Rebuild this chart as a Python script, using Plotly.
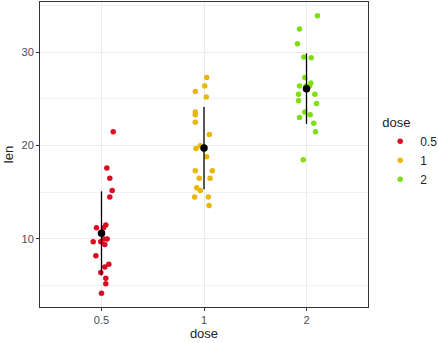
import numpy as np
import plotly.graph_objects as go

doses = ["0.5", "1", "2"]
colors = ["#DC0C20", "#E8B708", "#80DE0E"]

len_05 = [21.5, 17.6, 16.5, 15.2, 14.5, 11.5, 11.2, 11.2, 10.0, 10.0,
          9.7, 9.7, 9.4, 8.2, 7.3, 7.0, 6.4, 5.8, 5.2, 4.2]
jit_05 = [0.114, 0.052, 0.081, 0.104, 0.081, 0.042, -0.049, 0.02, 0.055, 0.02,
          -0.081, -0.007, 0.032, -0.055, 0.071, 0.032, -0.007, 0.042, 0.042, 0.0]

len_1 = [27.3, 26.4, 25.8, 25.2, 23.6, 23.3, 22.5, 21.2, 20.0, 19.7,
         18.8, 17.3, 17.3, 16.5, 16.5, 15.5, 15.2, 14.5, 14.5, 13.6]
jit_1 = [0.026, 0.007, -0.085, 0.022, -0.085, -0.085, -0.085, 0.052, -0.036, -0.078,
         0.026, -0.085, 0.081, -0.046, 0.059, -0.071, -0.036, -0.091, 0.042, 0.049]

len_2 = [33.9, 32.5, 30.9, 29.5, 29.4, 27.3, 26.7, 26.4, 26.4, 26.4,
         25.5, 25.5, 24.8, 24.5, 23.6, 23.3, 23.0, 22.4, 21.5, 18.5]
jit_2 = [0.107, -0.068, -0.088, -0.026, 0.046, -0.017, 0.042, -0.068, -0.005, 0.03,
         0.081, -0.078, -0.078, 0.098, -0.017, 0.036, -0.068, 0.071, 0.088, -0.032]

values = [len_05, len_1, len_2]
jitters = [jit_05, jit_1, jit_2]

FONT = "Liberation Sans, Arial, sans-serif"
fig = go.Figure()

for i, (d, c, v, j) in enumerate(zip(doses, colors, values, jitters)):
    xpos = [i + 1 + o for o in j]
    fig.add_trace(go.Scatter(x=xpos, y=v, mode="markers", name=d,
                             marker=dict(color=c, size=5.5, line=dict(width=0)),
                             showlegend=True))

for i, v in enumerate(values):
    m = float(np.mean(v))
    s = float(np.std(v, ddof=1))
    fig.add_trace(go.Scatter(x=[i + 1, i + 1], y=[m - s, m + s], mode="lines",
                             line=dict(color="black", width=1.3), showlegend=False,
                             hoverinfo="skip"))
    fig.add_trace(go.Scatter(x=[i + 1], y=[m], mode="markers",
                             marker=dict(color="black", size=7.5), showlegend=False))

fig.update_layout(
    width=438, height=343,
    margin=dict(l=40, r=70, t=2, b=36),
    paper_bgcolor="white", plot_bgcolor="white",
    font=dict(family=FONT, size=11, color="#4D4D4D"),
    legend=dict(title=dict(text="dose", font=dict(size=13, color="#222")),
                font=dict(size=12, color="#222"),
                xref="container", yref="container", x=0.868, y=0.68,
                xanchor="left", yanchor="top", itemwidth=30,
                tracegroupgap=0, bgcolor="rgba(0,0,0,0)"),
)

fig.update_xaxes(range=[0.4, 3.6], tickvals=[1, 2, 3], ticktext=doses,
                 showgrid=True, gridcolor="#EBEBEB", gridwidth=1,
                 zeroline=False, showline=True, linecolor="#333", linewidth=1, mirror=True,
                 ticks="outside", ticklen=3, tickcolor="#333",
                 tickfont=dict(size=11, color="#4D4D4D"),
                 title=dict(text="dose", font=dict(size=13, color="#222"), standoff=2))
fig.update_yaxes(range=[2.715, 35.385], tickvals=[10, 20, 30],
                 showgrid=True, gridcolor="#EBEBEB", gridwidth=1,
                 minor=dict(tickvals=[5, 15, 25, 35], showgrid=True, gridcolor="#F2F2F2", gridwidth=1),
                 zeroline=False, showline=True, linecolor="#333", linewidth=1, mirror=True,
                 ticks="outside", ticklen=3, tickcolor="#333",
                 tickfont=dict(size=11, color="#4D4D4D"),
                 title=dict(text="len", font=dict(size=13, color="#222"), standoff=4))

fig.write_html("out.html")
